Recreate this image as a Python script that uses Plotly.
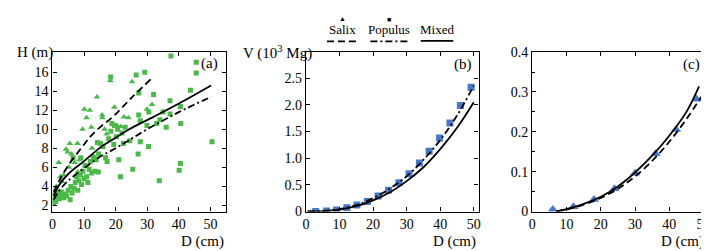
import plotly.graph_objects as go

# ---------------- data ----------------
# Panel (a): height vs diameter
salix_D = [0.5, 0.8, 1.2, 1.5, 2.0, 2.5, 3.0, 3.5, 4.3, 4.8, 5.5, 5.2, 6.0, 7.9, 8.5, 9.5, 10.1,
           10.8, 11.8, 12.3, 12.5, 14.1, 15.7, 15.8, 16.5, 17.2, 18.3, 19.6, 20.4, 21.6, 22.6,
           24.0, 25.2, 29.9, 31.5, 13.0, 8.0, 7.0]
salix_H = [3.2, 3.6, 4.0, 3.5, 6.5, 5.0, 4.5, 5.2, 7.9, 7.6, 8.5, 6.0, 7.4, 8.5, 6.8, 10.0, 12.1,
           11.2, 12.0, 10.2, 8.0, 13.4, 11.5, 11.2, 10.0, 9.5, 15.1, 12.3, 10.4, 10.3, 11.3,
           11.2, 15.0, 12.1, 12.6, 7.2, 5.5, 6.5]
populus_D = [0.3, 0.5, 0.8, 1.0, 1.3, 1.6, 2.0, 2.3, 2.8, 3.2, 3.6, 4.0, 4.5, 5.0, 5.6, 5.8, 6.2,
             6.8, 7.2, 7.6, 8.0, 8.3, 8.8, 9.2, 9.6, 10.0, 10.3, 10.8, 11.2, 11.6, 12.0, 12.4,
             13.0, 13.4, 13.8, 14.2, 14.6, 15.2, 16.0, 16.8, 17.3, 17.8, 18.5, 18.8, 19.4, 19.6,
             20.2, 20.6, 21.0, 21.5, 22.4, 18.4, 26.5, 29.2, 27.3, 32.0, 37.5, 45.5, 45.5, 43.7,
             37.2, 40.5, 37.2, 27.3, 34.0, 27.8, 29.9, 40.6, 27.8, 30.4, 27.1, 25.4, 33.8, 40.5,
             40.1, 50.5, 23.0, 24.5, 30.5, 33.0, 35.0, 36.0, 22.0, 14.5, 6.5, 9.0]
populus_H = [2.2, 2.6, 3.0, 2.4, 3.3, 2.9, 3.1, 2.7, 3.4, 3.0, 2.8, 3.2, 3.0, 3.6, 2.6, 4.0, 3.3,
             3.8, 4.4, 5.0, 3.6, 4.6, 5.2, 4.2, 5.6, 4.8, 6.2, 5.0, 4.4, 5.8, 6.6, 5.4,
             7.0, 5.6, 6.8, 8.6, 7.4, 8.5, 8.2, 7.0, 6.6, 9.0, 9.8, 10.6, 8.4, 10.4,
             9.2, 10.0, 6.8, 5.0, 8.5, 15.5, 15.7, 16.0, 13.8, 13.65, 17.7, 17.05, 15.9, 14.1,
             13.0, 12.4, 11.6, 11.5, 11.0, 10.9, 10.4, 10.6, 8.7, 8.2, 7.4, 5.8, 4.6, 6.4,
             5.7, 8.7, 10.2, 8.8, 11.8, 10.6, 11.8, 10.2, 9.6, 5.5, 7.0, 7.0]

fitA_salix_D = [0.5, 2, 5, 10, 12.2, 15, 19.4, 25, 31.6]
fitA_salix_H = [3.4, 4.5, 6.2, 8.4, 9.3, 10.2, 11.4, 13.3, 15.4]
fitA_populus_D = [0.4, 2, 5, 10, 15, 20, 24, 30, 40, 50.2]
fitA_populus_H = [2.6, 3.5, 4.6, 5.9, 7.1, 8.0, 8.8, 10.0, 11.8, 13.4]
fitA_mixed_D = [0.4, 2, 5, 10, 15.6, 20, 24, 32, 40, 50.2]
fitA_mixed_H = [3.0, 4.1, 5.3, 6.65, 8.2, 9.1, 9.95, 11.3, 12.7, 14.6]

# Panel (b): Populus volume
popB_D = [2.9, 6.1, 9.1, 12.2, 15.2, 18.3, 21.5, 24.6, 27.7, 30.7, 33.8, 36.7, 39.8, 42.9, 46.0, 49.2]
popB_V = [0.0, 0.01, 0.03, 0.07, 0.12, 0.19, 0.29, 0.40, 0.54, 0.71, 0.91, 1.13, 1.38, 1.66, 1.99, 2.33]
fitB_D = [0.5, 5, 10, 15, 20, 25, 30, 35, 40, 45, 50]
fitB_populus_V = [0.0, 0.01, 0.045, 0.12, 0.25, 0.43, 0.66, 0.97, 1.34, 1.8, 2.36]
fitB_mixed_V = [0.0, 0.008, 0.037, 0.1, 0.21, 0.36, 0.57, 0.83, 1.17, 1.57, 2.05]

# Panel (c): Salix volume
salC_D = [6, 12, 18, 24, 30, 36, 42, 48]
salC_V = [0.005, 0.012, 0.03, 0.057, 0.096, 0.145, 0.206, 0.282]
fitC_mixed_D = [7, 10, 15, 20, 25, 30, 35, 40, 45, 48.7]
fitC_mixed_V = [0.0, 0.006, 0.019, 0.037, 0.063, 0.098, 0.14, 0.19, 0.25, 0.314]
fitC_salix_D = [7, 10, 15, 20, 25, 30, 35, 40, 45, 50]
fitC_salix_V = [0.0, 0.005, 0.017, 0.034, 0.057, 0.088, 0.127, 0.175, 0.232, 0.296]

# legend entries
legend_names = ["Salix", "Populus", "Mixed"]

# ---------------- styling ----------------
GREEN = "#4cb84a"
BLUE = "#4a78c8"
FONT = "Liberation Serif, Times New Roman, serif"
DASH = "7px,4px"
DASHDOT = "7px,3px,2px,3px"
LW = 1.8

fig = go.Figure()

def line(x, y, dash, xa, ya):
    fig.add_trace(go.Scatter(x=x, y=y, mode="lines", line=dict(color="black", width=LW, dash=dash, shape="spline"),
                             xaxis=xa, yaxis=ya, showlegend=False, hoverinfo="skip"))

# panel a
fig.add_trace(go.Scatter(x=populus_D, y=populus_H, mode="markers",
                         marker=dict(symbol="square", size=5, color=GREEN), xaxis="x", yaxis="y", showlegend=False))
fig.add_trace(go.Scatter(x=salix_D, y=salix_H, mode="markers",
                         marker=dict(symbol="triangle-up", size=6, color=GREEN), xaxis="x", yaxis="y", showlegend=False))
line(fitA_salix_D, fitA_salix_H, DASH, "x", "y")
line(fitA_populus_D, fitA_populus_H, DASHDOT, "x", "y")
line(fitA_mixed_D, fitA_mixed_H, "solid", "x", "y")

# panel b
fig.add_trace(go.Scatter(x=popB_D, y=popB_V, mode="markers",
                         marker=dict(symbol="square", size=7, color=BLUE), xaxis="x2", yaxis="y2", showlegend=False))
line(fitB_D, fitB_populus_V, DASHDOT, "x2", "y2")
line(fitB_D, fitB_mixed_V, "solid", "x2", "y2")

# panel c
fig.add_trace(go.Scatter(x=salC_D, y=salC_V, mode="markers",
                         marker=dict(symbol="triangle-up", size=9, color=BLUE), xaxis="x3", yaxis="y3", showlegend=False))
line(fitC_salix_D, fitC_salix_V, DASH, "x3", "y3")
line(fitC_mixed_D, fitC_mixed_V, "solid", "x3", "y3")

W, H = 709, 251
def px(x):
    return x / W
def py(y):
    return 1 - y / H

ax_common = dict(showline=True, linecolor="black", linewidth=1.3, mirror="allticks", ticks="inside",
                 ticklen=4, tickcolor="black", tickwidth=1, showgrid=False, zeroline=False,
                 tickfont=dict(family=FONT, size=14, color="black"))

ydom = [py(209), py(39.5)]
fig.update_layout(
    width=W, height=H, margin=dict(l=0, r=0, t=0, b=0),
    paper_bgcolor="white", plot_bgcolor="white",
    font=dict(family=FONT, color="black"),
    xaxis=dict(domain=[px(41), px(217)], range=[0, 55], tickvals=[0, 10, 20, 30, 40, 50], anchor="y", **ax_common),
    yaxis=dict(domain=ydom, range=[1.36, 18.1], tickvals=[2, 4, 6, 8, 10, 12, 14, 16], anchor="x", **ax_common),
    xaxis2=dict(domain=[px(297.7), px(472.5)], range=[0, 51.4], tickvals=[0, 10, 20, 30, 40, 50], anchor="y2", **ax_common),
    yaxis2=dict(domain=ydom, range=[0, 2.99], tickvals=[0, 0.5, 1.0, 1.5, 2.0, 2.5],
                ticktext=["0", "0.5", "1.0", "1.5", "2.0", "2.5"], anchor="x2", **ax_common),
    xaxis3=dict(domain=[px(527), px(702.5)], range=[0, 50.6], tickvals=[0, 10, 20, 30, 40, 50], anchor="y3", **ax_common),
    yaxis3=dict(domain=ydom, range=[0, 0.4], tickvals=[0, 0.1, 0.2, 0.3, 0.4],
                ticktext=["0", "0.1", "0.2", "0.3", "0.4"], anchor="x3",
                minor=dict(dtick=0.05, ticks="inside", ticklen=3, tickcolor="black"), **ax_common),
)

def text(x, y, s, xanchor="center", size=15):
    fig.add_annotation(x=px(x), y=py(y), xref="paper", yref="paper", text=s, showarrow=False,
                       xanchor=xanchor, yanchor="middle", font=dict(family=FONT, size=size, color="black"))

text(3, 40, "H (m)", xanchor="left")
text(232, 40, "V (10<sup>3</sup> Mg)", xanchor="left")
text(217, 241, "D (cm)", xanchor="right")
text(472, 241, "D (cm)", xanchor="right")
text(703, 241, "D (cm)", xanchor="right")
text(200, 52, "(a)")
text(457, 53, "(b)")
text(688, 53, "(c)")

# legend (drawn manually: marker above, name, line sample below)
text(334.5, 15, legend_names[0], size=13)
text(381.5, 15, legend_names[1], size=13)
text(430.5, 15, legend_names[2], size=13)
text(334.5, 4, "▲", size=7)
text(382.3, 5, "■", size=7)

def hline(x0, x1, y, dash):
    fig.add_shape(type="line", xref="paper", yref="paper", x0=px(x0), x1=px(x1), y0=py(y), y1=py(y),
                  line=dict(color="black", width=LW, dash=dash))

hline(319, 350, 28, DASH)
hline(363, 402, 28, DASHDOT)
hline(414, 447, 27.5, "solid")

fig.write_html("out.html")
